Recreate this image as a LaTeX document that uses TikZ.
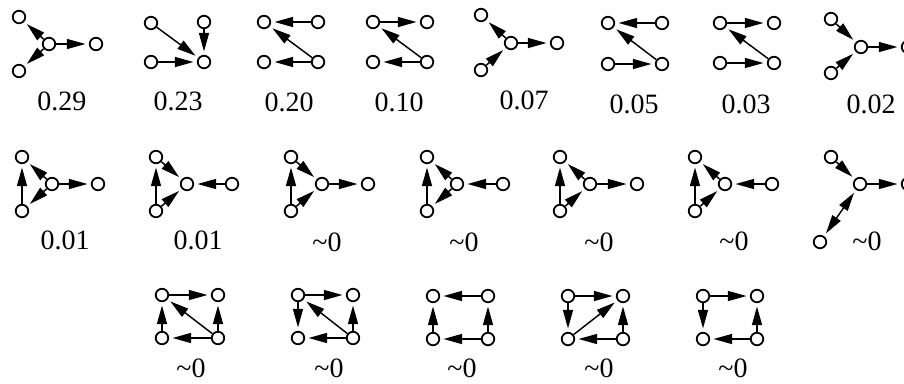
\documentclass[tikz,border=0pt]{standalone}
\usepackage{fontspec}
\setmainfont{Liberation Serif}
\usetikzlibrary{arrows.meta}

\tikzset{every picture/.style={line width=0.75pt}}
\tikzset{
  vtx/.style={circle,draw,fill=white,line width=1.35pt,minimum size=9.4pt,inner sep=0pt},
  edg/.style={-{Triangle[length=14pt,width=7.5pt]},line width=1.1pt,shorten >=2.5pt},
  edgboth/.style={{Triangle[length=14pt,width=7.5pt]}-{Triangle[length=14pt,width=7.5pt]},line width=1.1pt,shorten >=2.5pt,shorten <=2.5pt},
  lbl/.style={anchor=base,inner sep=0pt,font=\fontsize{21}{25}\selectfont}
}

\begin{document}
\begin{tikzpicture}[x=0.75pt,y=0.75pt,yscale=-1,xscale=1]
\useasboundingbox (0,0) rectangle (904,383);
\clip (0,0) rectangle (904,383);

%Motif 1
\node[vtx] (m1tl) at (19,17) {};
\node[vtx] (m1c) at (49,44) {};
\node[vtx] (m1r) at (96,44) {};
\node[vtx] (m1bl) at (19,71) {};
\draw[edg] (m1c) -- (m1tl);
\draw[edg] (m1c) -- (m1bl);
\draw[edg] (m1c) -- (m1r);
\node[lbl] (l1) at (62,110) {0.29};

%Motif 2
\node[vtx] (m2tl) at (151,23) {};
\node[vtx] (m2tr) at (204,22) {};
\node[vtx] (m2bl) at (151,62) {};
\node[vtx] (m2br) at (204,62) {};
\draw[edg] (m2tl) -- (m2br);
\draw[edg] (m2tr) -- (m2br);
\draw[edg] (m2bl) -- (m2br);
\node[lbl] (l2) at (178,110) {0.23};

%Motif 3
\node[vtx] (m3tl) at (264,22) {};
\node[vtx] (m3tr) at (318,22) {};
\node[vtx] (m3bl) at (264,62) {};
\node[vtx] (m3br) at (318,62) {};
\draw[edg] (m3tr) -- (m3tl);
\draw[edg] (m3br) -- (m3tl);
\draw[edg] (m3br) -- (m3bl);
\node[lbl] (l3) at (289,111) {0.20};

%Motif 4
\node[vtx] (m4tl) at (373,22) {};
\node[vtx] (m4tr) at (427,22) {};
\node[vtx] (m4bl) at (373,62) {};
\node[vtx] (m4br) at (427,62) {};
\draw[edg] (m4tl) -- (m4tr);
\draw[edg] (m4br) -- (m4tl);
\draw[edg] (m4br) -- (m4bl);
\node[lbl] (l4) at (399,111) {0.10};

%Motif 5
\node[vtx] (m5tl) at (481,15) {};
\node[vtx] (m5c) at (511,43) {};
\node[vtx] (m5r) at (557,43) {};
\node[vtx] (m5bl) at (481,70) {};
\draw[edg] (m5c) -- (m5tl);
\draw[edg] (m5bl) -- (m5c);
\draw[edg] (m5c) -- (m5r);
\node[lbl] (l5) at (524,109) {0.07};

%Motif 6
\node[vtx] (m6tl) at (608,23) {};
\node[vtx] (m6tr) at (662,23) {};
\node[vtx] (m6bl) at (608,64) {};
\node[vtx] (m6br) at (662,64) {};
\draw[edg] (m6tr) -- (m6tl);
\draw[edg] (m6br) -- (m6tl);
\draw[edg] (m6bl) -- (m6br);
\node[lbl] (l6) at (634,113) {0.05};

%Motif 7
\node[vtx] (m7tl) at (720,23) {};
\node[vtx] (m7tr) at (774,23) {};
\node[vtx] (m7bl) at (720,63) {};
\node[vtx] (m7br) at (774,63) {};
\draw[edg] (m7tl) -- (m7tr);
\draw[edg] (m7br) -- (m7tl);
\draw[edg] (m7bl) -- (m7br);
\node[lbl] (l7) at (746,113) {0.03};

%Motif 8
\node[vtx] (m8tl) at (831,19) {};
\node[vtx] (m8c) at (861,47) {};
\node[vtx] (m8r) at (908,47) {};
\node[vtx] (m8bl) at (831,73) {};
\draw[edg] (m8tl) -- (m8c);
\draw[edg] (m8bl) -- (m8c);
\draw[edg] (m8c) -- (m8r);
\node[lbl] (l8) at (871,113) {0.02};

%Motif 9
\node[vtx] (m9tl) at (22,157) {};
\node[vtx] (m9c) at (52,184) {};
\node[vtx] (m9r) at (98,184) {};
\node[vtx] (m9bl) at (22,211) {};
\draw[edg] (m9bl) -- (m9tl);
\draw[edg] (m9c) -- (m9tl);
\draw[edg] (m9c) -- (m9bl);
\draw[edg] (m9c) -- (m9r);
\node[lbl] (l9) at (65,249) {0.01};

%Motif 10
\node[vtx] (m10tl) at (156,157) {};
\node[vtx] (m10c) at (187,184) {};
\node[vtx] (m10r) at (232,184) {};
\node[vtx] (m10bl) at (156,211) {};
\draw[edg] (m10bl) -- (m10tl);
\draw[edg] (m10tl) -- (m10c);
\draw[edg] (m10bl) -- (m10c);
\draw[edg] (m10r) -- (m10c);
\node[lbl] (l10) at (198,249) {0.01};

%Motif 11
\node[vtx] (m11tl) at (291,157) {};
\node[vtx] (m11c) at (322,184) {};
\node[vtx] (m11r) at (368,184) {};
\node[vtx] (m11bl) at (291,211) {};
\draw[edg] (m11bl) -- (m11tl);
\draw[edg] (m11tl) -- (m11c);
\draw[edg] (m11bl) -- (m11c);
\draw[edg] (m11c) -- (m11r);
\node[lbl] (l11) at (327,251) {\textasciitilde0};

%Motif 12
\node[vtx] (m12tl) at (427,157) {};
\node[vtx] (m12c) at (457,184) {};
\node[vtx] (m12r) at (503,184) {};
\node[vtx] (m12bl) at (427,211) {};
\draw[edg] (m12bl) -- (m12tl);
\draw[edg] (m12c) -- (m12tl);
\draw[edg] (m12c) -- (m12bl);
\draw[edg] (m12r) -- (m12c);
\node[lbl] (l12) at (464,251) {\textasciitilde0};

%Motif 13
\node[vtx] (m13tl) at (560,157) {};
\node[vtx] (m13c) at (590,184) {};
\node[vtx] (m13r) at (637,184) {};
\node[vtx] (m13bl) at (560,211) {};
\draw[edg] (m13bl) -- (m13tl);
\draw[edg] (m13c) -- (m13tl);
\draw[edg] (m13bl) -- (m13c);
\draw[edg] (m13c) -- (m13r);
\node[lbl] (l13) at (599,251) {\textasciitilde0};

%Motif 14
\node[vtx] (m14tl) at (695,157) {};
\node[vtx] (m14c) at (725,184) {};
\node[vtx] (m14r) at (772,184) {};
\node[vtx] (m14bl) at (695,211) {};
\draw[edg] (m14bl) -- (m14tl);
\draw[edg] (m14c) -- (m14tl);
\draw[edg] (m14bl) -- (m14c);
\draw[edg] (m14r) -- (m14c);
\node[lbl] (l14) at (734,250) {\textasciitilde0};

%Motif 15
\node[vtx] (m15tl) at (831,157) {};
\node[vtx] (m15c) at (860,184) {};
\node[vtx] (m15r) at (908,184) {};
\node[vtx] (m15bl) at (820,242) {};
\draw[edg] (m15tl) -- (m15c);
\draw[edgboth] (m15c) -- (m15bl);
\draw[edg] (m15c) -- (m15r);
\node[lbl] (l15) at (867,250) {\textasciitilde0};

%Motif 16
\node[vtx] (m16tl) at (162,295) {};
\node[vtx] (m16tr) at (218,295) {};
\node[vtx] (m16bl) at (162,338) {};
\node[vtx] (m16br) at (218,338) {};
\draw[edg] (m16tl) -- (m16tr);
\draw[edg] (m16bl) -- (m16tl);
\draw[edg] (m16br) -- (m16tr);
\draw[edg] (m16br) -- (m16tl);
\draw[edg] (m16br) -- (m16bl);
\node[lbl] (l16) at (191,377) {\textasciitilde0};

%Motif 17
\node[vtx] (m17tl) at (298,295) {};
\node[vtx] (m17tr) at (353,295) {};
\node[vtx] (m17bl) at (298,338) {};
\node[vtx] (m17br) at (353,338) {};
\draw[edg] (m17tl) -- (m17tr);
\draw[edg] (m17tl) -- (m17bl);
\draw[edg] (m17br) -- (m17tr);
\draw[edg] (m17br) -- (m17tl);
\draw[edg] (m17br) -- (m17bl);
\node[lbl] (l17) at (329,377) {\textasciitilde0};

%Motif 18
\node[vtx] (m18tl) at (433,296) {};
\node[vtx] (m18tr) at (488,296) {};
\node[vtx] (m18bl) at (433,339) {};
\node[vtx] (m18br) at (488,339) {};
\draw[edg] (m18tr) -- (m18tl);
\draw[edg] (m18bl) -- (m18tl);
\draw[edg] (m18br) -- (m18tr);
\draw[edg] (m18br) -- (m18bl);
\node[lbl] (l18) at (462,377) {\textasciitilde0};

%Motif 19
\node[vtx] (m19tl) at (568,296) {};
\node[vtx] (m19tr) at (623,296) {};
\node[vtx] (m19bl) at (568,339) {};
\node[vtx] (m19br) at (623,339) {};
\draw[edg] (m19tl) -- (m19tr);
\draw[edg] (m19tl) -- (m19bl);
\draw[edg] (m19bl) -- (m19tr);
\draw[edg] (m19br) -- (m19tr);
\draw[edg] (m19br) -- (m19bl);
\node[lbl] (l19) at (599,377) {\textasciitilde0};

%Motif 20
\node[vtx] (m20tl) at (703,296) {};
\node[vtx] (m20tr) at (757,296) {};
\node[vtx] (m20bl) at (703,339) {};
\node[vtx] (m20br) at (757,339) {};
\draw[edg] (m20tl) -- (m20tr);
\draw[edg] (m20tl) -- (m20bl);
\draw[edg] (m20br) -- (m20tr);
\draw[edg] (m20br) -- (m20bl);
\node[lbl] (l20) at (733,377) {\textasciitilde0};

\end{tikzpicture}
\end{document}
